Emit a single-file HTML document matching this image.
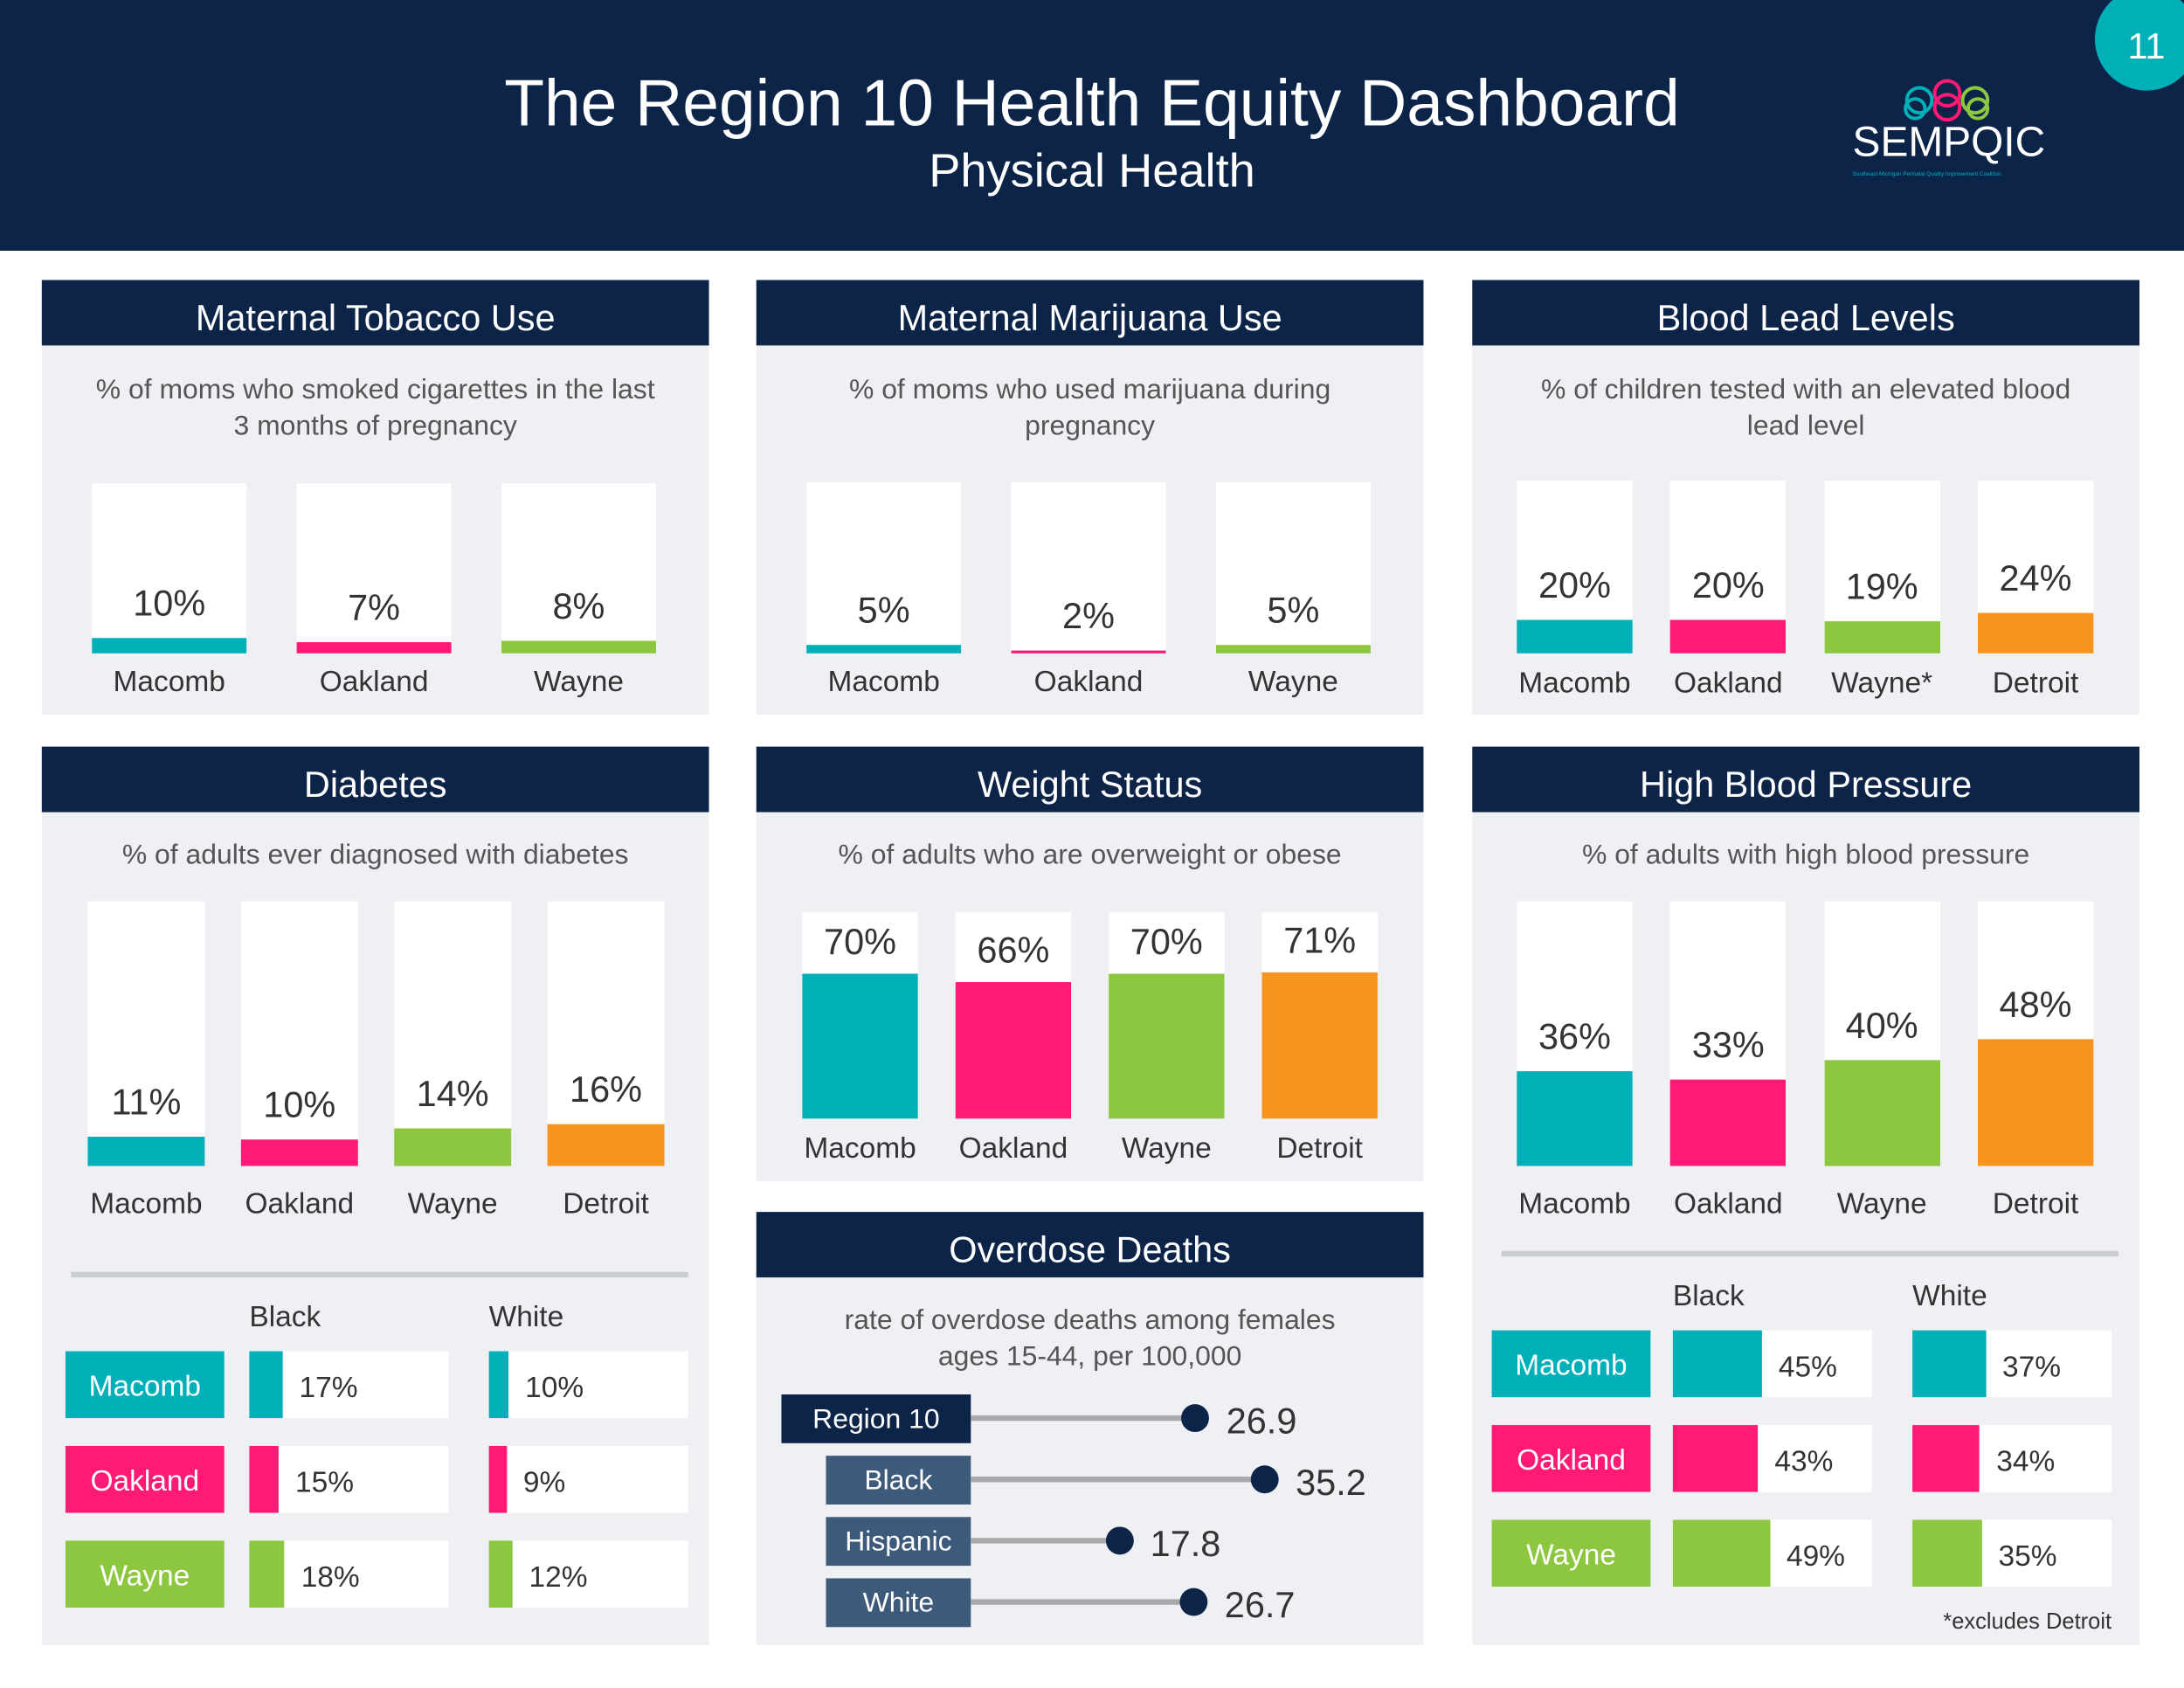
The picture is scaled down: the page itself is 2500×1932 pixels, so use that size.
<!DOCTYPE html>
<html><head><meta charset="utf-8">
<style>
html,body{margin:0;padding:0;background:#fff;}
body{width:2500px;height:1932px;overflow:hidden;}
#wrap{position:absolute;left:0;top:0;width:1568px;height:1212px;transform:scale(1.5944);transform-origin:0 0;font-family:"Liberation Sans",sans-serif;color:#333;}
.abs{position:absolute;}
.panel{position:absolute;background:#eff0f4;}
.ph{position:absolute;left:0;top:0;right:0;height:47px;background:#0d2449;color:#fff;font-size:26px;text-align:center;line-height:54px;}
.sub{position:absolute;left:0;right:0;text-align:center;font-size:20px;color:#555;line-height:26px;}
.t{position:absolute;white-space:nowrap;}
</style></head><body>
<div id="wrap">
<div class="abs" style="left:0;top:0;width:1568px;height:180px;background:#0d2449;"></div>
<div class="t" style="left:0;width:1568px;text-align:center;top:46px;font-size:47px;color:#fff;">The Region 10 Health Equity Dashboard</div>
<div class="t" style="left:0;width:1568px;text-align:center;top:104px;font-size:34px;color:#fff;">Physical Health</div>
<div class="abs" style="left:1504px;top:-9px;width:74px;height:74px;border-radius:50%;background:#00b0b9;color:#fff;font-size:26px;text-align:center;line-height:84px;">11</div>
<div class="abs" style="left:1320px;top:48px;width:160px;height:86px;">
<svg width="160" height="50" viewBox="0 0 160 50" style="position:absolute;left:0;top:0">
<circle cx="58" cy="24" r="9" fill="none" stroke="#00b0b9" stroke-width="2.5"/><circle cx="55" cy="30" r="7" fill="none" stroke="#00b0b9" stroke-width="2.5"/>
<circle cx="78" cy="19" r="9" fill="none" stroke="#ff1a75" stroke-width="2.5"/><circle cx="78" cy="29" r="9" fill="none" stroke="#ff1a75" stroke-width="2.5"/>
<circle cx="98" cy="24" r="9" fill="none" stroke="#8dc63f" stroke-width="2.5"/><circle cx="100" cy="30" r="7" fill="none" stroke="#8dc63f" stroke-width="2.5"/>
</svg>
<div class="t" style="left:10px;top:38px;font-size:30px;color:#fff;">SEMPQIC</div>
<div class="t" style="left:10px;top:74px;font-size:4px;color:#00b0b9;">Southeast Michigan Perinatal Quality Improvement Coalition</div>
</div>
<div id="panels"></div>
</div>
<script>
// ---- data ----
const tobaccoCats=["Macomb","Oakland","Wayne"];
const tobaccoVals=[10,7,8];
const marijuanaCats=["Macomb","Oakland","Wayne"];
const marijuanaVals=[5,2,5];
const leadCats=["Macomb","Oakland","Wayne*","Detroit"];
const leadVals=[20,20,19,24];
const diabetesCats=["Macomb","Oakland","Wayne","Detroit"];
const diabetesVals=[11,10,14,16];
const weightCats=["Macomb","Oakland","Wayne","Detroit"];
const weightVals=[70,66,70,71];
const bpCats=["Macomb","Oakland","Wayne","Detroit"];
const bpVals=[36,33,40,48];
const raceRows=["Macomb","Oakland","Wayne"];
const diabetesBlack=[17,15,18];
const diabetesWhite=[10,9,12];
const bpBlack=[45,43,49];
const bpWhite=[37,34,35];
const odCats=["Region 10","Black","Hispanic","White"];
const odVals=[26.9,35.2,17.8,26.7];
const COLORS=["#00b0b9","#ff1a75","#8dc63f","#f7941d"];

const root=document.getElementById('panels');
function div(parent,css,cls,text){const d=document.createElement('div');if(cls)d.className=cls;d.style.cssText=css;if(text!==undefined)d.textContent=text;parent.appendChild(d);return d;}

function panel(name,title,x,y,w,h,sub,subTop){
  const p=div(root,`left:${x}px;top:${y}px;width:${w}px;height:${h}px;`,'panel');
  
  
  const hd=div(p,'','ph',title);
  
  
  const s=div(p,`top:${subTop}px;`,'sub');
  s.innerHTML=sub;
  
  
  return p;
}

function bars(p,name,cats,vals,x0,step,bw,boxTop,boxBot,k,catY,labOff){
  cats.forEach((c,i)=>{
    const x=x0+i*step;
    const box=div(p,`position:absolute;left:${x}px;top:${boxTop}px;width:${bw}px;height:${boxBot-boxTop}px;background:#fff;`);
    
    
    const h=Math.max(2,vals[i]*k);
    const b=div(p,`position:absolute;left:${x}px;top:${boxBot-h}px;width:${bw}px;height:${h}px;background:${COLORS[i]};`);
    
    
    const v=div(p,`left:${x-20}px;width:${bw+40}px;text-align:center;top:${boxBot-h-labOff}px;font-size:26px;color:#333;`,'t',vals[i]+'%');
    
    
    const l=div(p,`left:${x-30}px;width:${bw+60}px;text-align:center;top:${catY}px;font-size:21px;color:#333;`,'t',c);
    
    
  });
}

function raceTable(p,name,rowTop,hdrTop,labX,bX,wX,colW,k,lineY){
  const ln=div(p,`position:absolute;left:21px;right:15px;top:${lineY}px;height:4px;background:#c8cdd2;`);
  
  
  const hb=div(p,`left:${bX}px;top:${hdrTop}px;font-size:21px;color:#333;`,'t','Black');
  
  
  const hw=div(p,`left:${wX}px;top:${hdrTop}px;font-size:21px;color:#333;`,'t','White');
  
  
  const B=name==='diabetes'?diabetesBlack:bpBlack, W=name==='diabetes'?diabetesWhite:bpWhite;
  raceRows.forEach((r,i)=>{
    const y=rowTop+i*68;
    const lb=div(p,`position:absolute;left:${labX}px;top:${y}px;width:114px;height:48px;background:${COLORS[i]};color:#fff;font-size:21px;text-align:center;line-height:52px;`,'',r);
    
    
    [[bX,B[i],'black'],[wX,W[i],'white']].forEach(([cx,v,g])=>{
      const bg=div(p,`position:absolute;left:${cx}px;top:${y}px;width:${colW}px;height:48px;background:#fff;`);
      
      
      const w=v*k;
      const b=div(p,`position:absolute;left:${cx}px;top:${y}px;width:${w}px;height:48px;background:${COLORS[i]};`);
      
      
      const t=div(p,`left:${cx+w+12}px;top:${y+15}px;font-size:21px;color:#333;`,'t',v+'%');
      
      
    });
  });
}

let p;
p=panel('tobacco','Maternal Tobacco Use',30,201,479,312,'% of moms who smoked cigarettes in the last<br>3 months of pregnancy',66);
bars(p,'tobacco',tobaccoCats,tobaccoVals,36,147,111,146,268,1.1,277,40);
p=panel('marijuana','Maternal Marijuana Use',543,201,479,312,'% of moms who used marijuana during<br>pregnancy',66);
bars(p,'marijuana',marijuanaCats,marijuanaVals,36,147,111,145,268,1.2,277,40);
p=panel('lead','Blood Lead Levels',1057,201,479,312,'% of children tested with an elevated blood<br>lead level',66);
bars(p,'lead',leadCats,leadVals,32,110.3,83,144,268,1.2,278,40);

p=panel('diabetes','Diabetes',30,536,479,645,'% of adults ever diagnosed with diabetes',65);
bars(p,'diabetes',diabetesCats,diabetesVals,33,110,84,111,301,1.9,317,40);
raceTable(p,'diabetes',434,398,17,149,321,143,1.4,377);

p=panel('weight','Weight Status',543,536,479,312,'% of adults who are overweight or obese',65);
bars(p,'weight',weightCats,weightVals,33,110,83,119,267,1.48,277,38);

p=panel('bp','High Blood Pressure',1057,536,479,645,'% of adults with high blood pressure',65);
bars(p,'bp',bpCats,bpVals,32,110.3,83,111,301,1.89,317,40);
raceTable(p,'bp',419,383,14,144,316,143,1.42,362);
const ex=div(p,`right:20px;top:620px;font-size:16px;color:#333;`,'t','*excludes Detroit');



p=panel('overdose','Overdose Deaths',543,870,479,311,'rate of overdose deaths among females<br>ages 15-44, per 100,000',65);
const odX=(v)=>154+v*6.0;
odCats.forEach((c,i)=>{
  const y=131+i*44;
  const left=i===0?18:50;
  const lb=div(p,`position:absolute;left:${left}px;top:${y}px;width:${154-left}px;height:35px;background:${i===0?'#0d2449':'#3d5a7a'};color:#fff;font-size:20px;text-align:center;line-height:37px;`,'',c);
  
  
  const cx=odX(odVals[i]);
  const ln=div(p,`position:absolute;left:154px;top:${y+15}px;width:${cx-154}px;height:4px;background:#a9a9ab;`);
  
  
  const dot=div(p,`position:absolute;left:${cx-10}px;top:${y+7}px;width:20px;height:20px;border-radius:50%;background:#0d2449;`);
  
  
  const t=div(p,`left:${cx+22}px;top:${y+4}px;font-size:26px;color:#333;`,'t',odVals[i].toFixed(1));
  
  
});
</script>
</body></html>
